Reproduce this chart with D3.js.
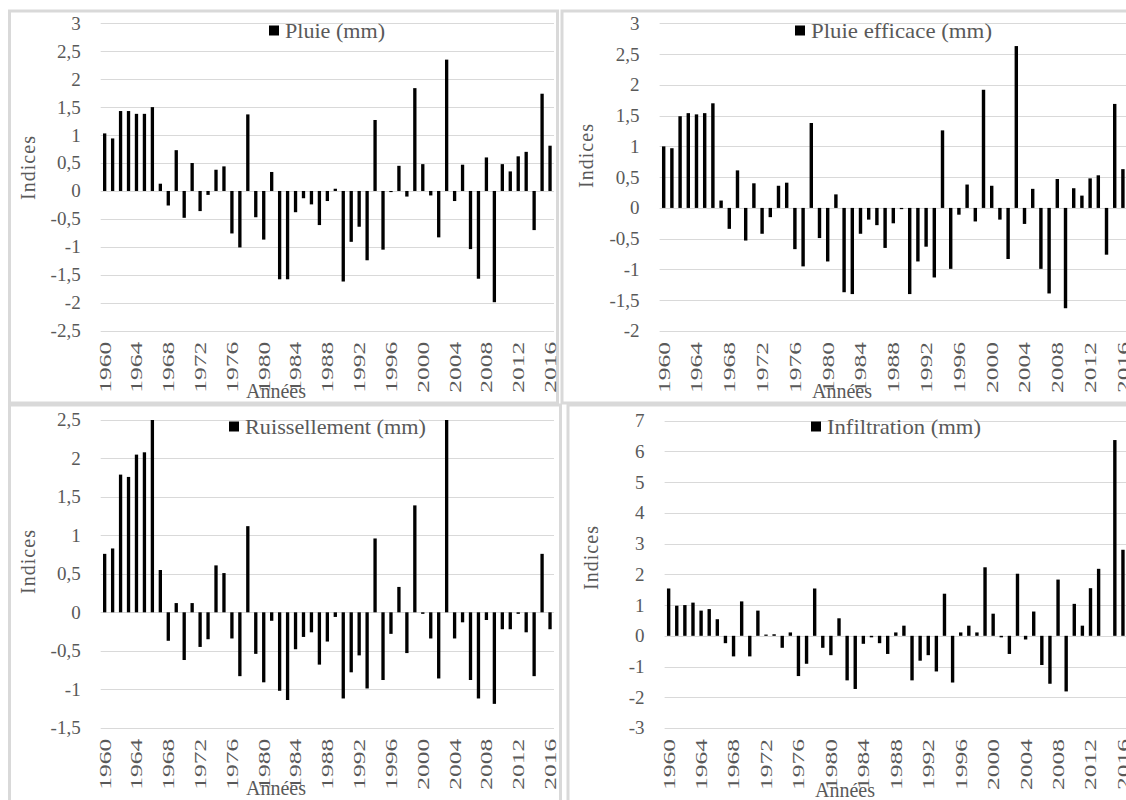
<!DOCTYPE html>
<html>
<head>
<meta charset="utf-8">
<script src="https://cdn.jsdelivr.net/npm/d3@7"></script>
<style>
  body { margin: 0; background: #ffffff; }
</style>
</head>
<body>
<div id="chart"></div>
<script>
// categories
var years = [1960, 1961, 1962, 1963, 1964, 1965, 1966, 1967, 1968, 1969,
             1970, 1971, 1972, 1973, 1974, 1975, 1976, 1977, 1978, 1979,
             1980, 1981, 1982, 1983, 1984, 1985, 1986, 1987, 1988, 1989,
             1990, 1991, 1992, 1993, 1994, 1995, 1996, 1997, 1998, 1999,
             2000, 2001, 2002, 2003, 2004, 2005, 2006, 2007, 2008, 2009,
             2010, 2011, 2012, 2013, 2014, 2015, 2016];
var yearTicks = [1960, 1964, 1968, 1972, 1976, 1980, 1984, 1988, 1992, 1996, 2000, 2004, 2008, 2012, 2016];

// series values (indices)
var pluie = [1.03, 0.94, 1.43, 1.43, 1.38, 1.38, 1.50, 0.13, -0.26, 0.73,
             -0.48, 0.50, -0.36, -0.07, 0.38, 0.44, -0.76, -1.01, 1.37, -0.47,
             -0.87, 0.34, -1.58, -1.58, -0.38, -0.13, -0.24, -0.61, -0.18, 0.04,
             -1.62, -0.91, -0.64, -1.24, 1.27, -1.05, -0.02, 0.45, -0.10, 1.84,
             0.48, -0.08, -0.83, 2.35, -0.18, 0.47, -1.04, -1.57, 0.60, -1.99,
             0.48, 0.35, 0.62, 0.70, -0.70, 1.74, 0.81];
var pluieEfficace = [1.00, 0.97, 1.49, 1.54, 1.52, 1.54, 1.70, 0.12, -0.34, 0.61,
             -0.53, 0.40, -0.42, -0.15, 0.36, 0.41, -0.67, -0.95, 1.38, -0.49,
             -0.87, 0.22, -1.37, -1.40, -0.42, -0.19, -0.28, -0.65, -0.25, -0.02,
             -1.40, -0.87, -0.63, -1.13, 1.26, -0.99, -0.11, 0.38, -0.22, 1.92,
             0.36, -0.19, -0.83, 2.63, -0.26, 0.31, -0.99, -1.39, 0.47, -1.63,
             0.32, 0.20, 0.48, 0.53, -0.76, 1.69, 0.63];
var ruissellement = [0.76, 0.83, 1.79, 1.76, 2.05, 2.08, 2.50, 0.55, -0.37, 0.12,
             -0.62, 0.12, -0.45, -0.35, 0.61, 0.51, -0.34, -0.83, 1.12, -0.54,
             -0.91, -0.11, -1.02, -1.14, -0.48, -0.32, -0.26, -0.68, -0.38, -0.06,
             -1.12, -0.78, -0.56, -0.99, 0.96, -0.88, -0.28, 0.33, -0.53, 1.39,
             -0.02, -0.34, -0.86, 2.50, -0.34, -0.13, -0.88, -1.12, -0.10, -1.19,
             -0.22, -0.22, -0.02, -0.26, -0.83, 0.76, -0.22];
var infiltration = [1.54, 0.98, 1.00, 1.08, 0.82, 0.87, 0.54, -0.24, -0.67, 1.12,
             -0.67, 0.82, 0.04, 0.05, -0.39, 0.11, -1.31, -0.91, 1.54, -0.39,
             -0.63, 0.57, -1.45, -1.73, -0.26, -0.05, -0.24, -0.59, 0.11, 0.33,
             -1.45, -0.81, -0.63, -1.16, 1.37, -1.52, 0.11, 0.33, 0.11, 2.23,
             0.72, -0.05, -0.59, 2.02, -0.12, 0.79, -0.95, -1.56, 1.83, -1.81,
             1.04, 0.33, 1.55, 2.18, 0.00, 6.37, 2.80];

// tick labels
var ticksPluie = [3, 2.5, 2, 1.5, 1, 0.5, 0, -0.5, -1, -1.5, -2, -2.5];
var ticksEfficace = [3, 2.5, 2, 1.5, 1, 0.5, 0, -0.5, -1, -1.5, -2];
var ticksRuiss = [2.5, 2, 1.5, 1, 0.5, 0, -0.5, -1, -1.5];
var ticksInfil = [7, 6, 5, 4, 3, 2, 1, 0, -1, -2, -3];

var W = 1126, H = 800;
var svg = d3.select("#chart").append("svg")
  .attr("width", W).attr("height", H)
  .attr("font-family", "'Liberation Serif', 'Times New Roman', serif");

var gridColor = "#d9d9d9";
var textColor = "#595959";
var fmt = function(d) { return String(d).replace(".", ","); };

// panel layout: frame, plot area, legend, titles
var panels = [
  { values: pluie, ticks: ticksPluie, legend: "Pluie (mm)", legendW: 100,
    frame: [9.5, 11, 548, 392], x0: 100.7, x1: 554, top: 23.3, bottom: 330.7,
    lx: 269, ly: 25.5, yTitle: [28, 168], xTitle: [276, 398] },
  { values: pluieEfficace, ticks: ticksEfficace, legend: "Pluie efficace (mm)", legendW: 181,
    frame: [562, 11, 600, 392], x0: 659.6, x1: 1127, top: 23.3, bottom: 331,
    lx: 795, ly: 25.5, yTitle: [586, 156], xTitle: [842, 398] },
  { values: ruissellement, ticks: ticksRuiss, legend: "Ruissellement (mm)", legendW: 181,
    frame: [9.5, 405, 551, 420], x0: 100.7, x1: 554, top: 420, bottom: 727.7,
    lx: 229, ly: 421.5, yTitle: [28, 562], xTitle: [276, 795] },
  { values: infiltration, ticks: ticksInfil, legend: "Infiltration (mm)", legendW: 154,
    frame: [568, 405, 600, 420], x0: 664.6, x1: 1127, top: 420.7, bottom: 728,
    lx: 811, ly: 421.5, yTitle: [591, 558], xTitle: [845, 797] }
];

panels.forEach(function(p) {
  var g = svg.append("g");

  // chart frame
  g.append("rect")
    .attr("x", p.frame[0]).attr("y", p.frame[1])
    .attr("width", p.frame[2]).attr("height", p.frame[3])
    .attr("fill", "#ffffff")
    .attr("stroke", gridColor)
    .attr("stroke-width", 3);

  var x = d3.scaleBand()
    .domain(years)
    .range([p.x0, p.x1])
    .paddingInner(0.583)
    .paddingOuter(0.29);

  var y = d3.scaleLinear()
    .domain([d3.min(p.ticks), d3.max(p.ticks)])
    .range([p.bottom, p.top]);

  // gridlines
  g.append("g").selectAll("line")
    .data(p.ticks)
    .enter().append("line")
      .attr("x1", p.x0).attr("x2", p.x1)
      .attr("y1", function(d) { return Math.round(y(d)) + 0.5; })
      .attr("y2", function(d) { return Math.round(y(d)) + 0.5; })
      .attr("stroke", gridColor)
      .attr("stroke-width", 1);

  // y tick labels
  g.append("g").selectAll("text")
    .data(p.ticks)
    .enter().append("text")
      .attr("x", p.x0 - 20)
      .attr("y", function(d) { return y(d); })
      .attr("dy", "0.34em")
      .attr("text-anchor", "end")
      .attr("fill", textColor)
      .style("font-size", "19px")
      .text(fmt);

  // bars
  var lo = y.domain()[0], hi = y.domain()[1];
  g.append("g").selectAll("rect")
    .data(p.values)
    .enter().append("rect")
      .attr("x", function(d, i) { return x(years[i]); })
      .attr("width", x.bandwidth())
      .attr("y", function(d) { return y(Math.min(Math.max(d, 0), hi)); })
      .attr("height", function(d) {
        var v = Math.max(Math.min(d, hi), lo);
        return Math.abs(y(v) - y(0));
      })
      .attr("fill", "#000000");

  // year labels, rotated to read upward
  g.append("g").selectAll("text")
    .data(yearTicks)
    .enter().append("text")
      .attr("transform", function(d) {
        return "translate(" + (x(d) + x.bandwidth() / 2) + "," + (p.bottom + 11) + ") rotate(-90)";
      })
      .attr("dy", "0.35em")
      .attr("text-anchor", "end")
      .attr("textLength", 51)
      .attr("lengthAdjust", "spacingAndGlyphs")
      .attr("fill", textColor)
      .style("font-size", "17px")
      .text(function(d) { return d; });

  // axis titles
  g.append("text")
    .attr("transform", "translate(" + p.yTitle[0] + "," + p.yTitle[1] + ") rotate(-90)")
    .attr("dy", "0.35em")
    .attr("text-anchor", "middle")
    .attr("textLength", 64)
    .attr("fill", textColor)
    .style("font-size", "20px")
    .text("Indices");

  g.append("text")
    .attr("x", p.xTitle[0]).attr("y", p.xTitle[1])
    .attr("text-anchor", "middle")
    .attr("fill", textColor)
    .style("font-size", "20px")
    .text("Années");

  // legend
  g.append("rect")
    .attr("x", p.lx).attr("y", p.ly)
    .attr("width", 10).attr("height", 10)
    .attr("fill", "#000000");
  g.append("text")
    .attr("x", p.lx + 16).attr("y", p.ly + 5)
    .attr("dy", "0.35em")
    .attr("textLength", p.legendW)
    .attr("lengthAdjust", "spacingAndGlyphs")
    .attr("fill", textColor)
    .style("font-size", "21px")
    .text(p.legend);
});
</script>
</body>
</html>
